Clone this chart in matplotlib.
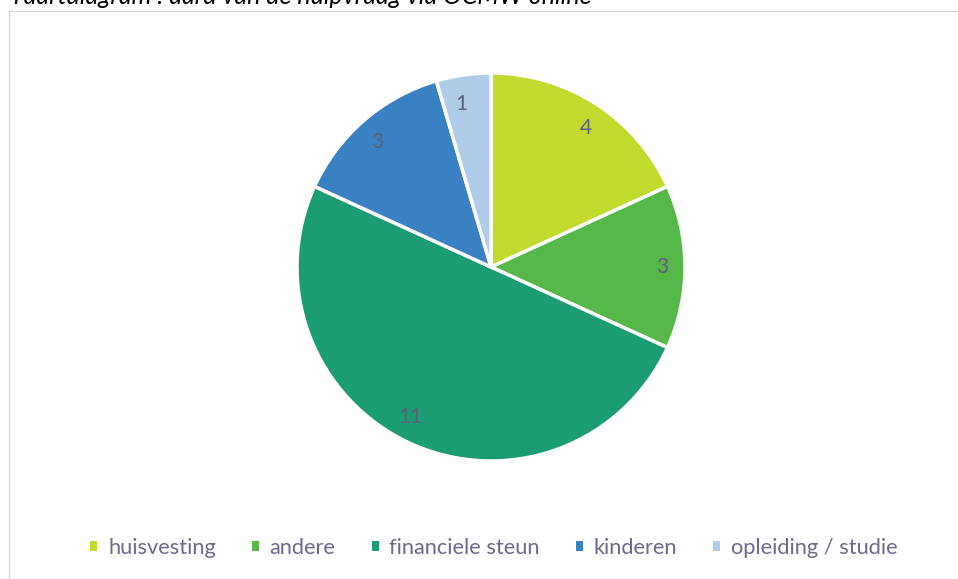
import matplotlib
matplotlib.use("Agg")
import matplotlib.pyplot as plt
from matplotlib.patches import Rectangle
from matplotlib.lines import Line2D

categories = ["huisvesting", "andere", "financiele steun", "kinderen", "opleiding / studie"]
values = [4, 3, 11, 3, 1]
colors = ["#C2D92E", "#57B84A", "#1C9C73", "#3A81C3", "#AFCDE8"]
title = "Taartdiagram : aard van de hulpvraag via OCMW online"

plt.rcParams['font.family'] = ['Lato', 'DejaVu Sans']

W, H = 958, 579
fig = plt.figure(figsize=(W / 100, H / 100), dpi=100)

# frame
fig.add_artist(Line2D([9 / W, 9 / W], [0, 1 - 11 / H], color="#D9D9D9", lw=1))
fig.add_artist(Line2D([9 / W, 1], [1 - 11 / H, 1 - 11 / H], color="#D9D9D9", lw=1))

fig.text(10 / W, 1 - 4 / H, title, fontsize=18, style="italic", color="#000000",
         va="baseline", ha="left")

cx, cy, r = 491, 267, 194
ax = fig.add_axes([(cx - r) / W, 1 - (cy + r) / H, 2 * r / W, 2 * r / H])
wedges, texts = ax.pie(values, colors=colors, startangle=90, counterclock=False,
                       labels=[str(v) for v in values], labeldistance=0.85,
                       wedgeprops=dict(edgecolor="white", linewidth=2.5),
                       textprops=dict(fontsize=15, color="#5E5E7E"))
ax.set_aspect("equal")
ax.set_xlim(-1, 1)
ax.set_ylim(-1, 1)
ax.axis("off")

handles = [Rectangle((0, 0), 1, 1, facecolor=c, edgecolor="none") for c in colors]
leg = fig.legend(handles, categories, loc="center", bbox_to_anchor=(494 / W, 1 - 548 / H),
                 ncol=5, frameon=False, fontsize=15.7, handlelength=0.32, handleheight=0.36,
                 handletextpad=0.5, columnspacing=1.65, labelcolor="#6A6A8C")

fig.savefig("out.png", dpi=100, facecolor="white")
